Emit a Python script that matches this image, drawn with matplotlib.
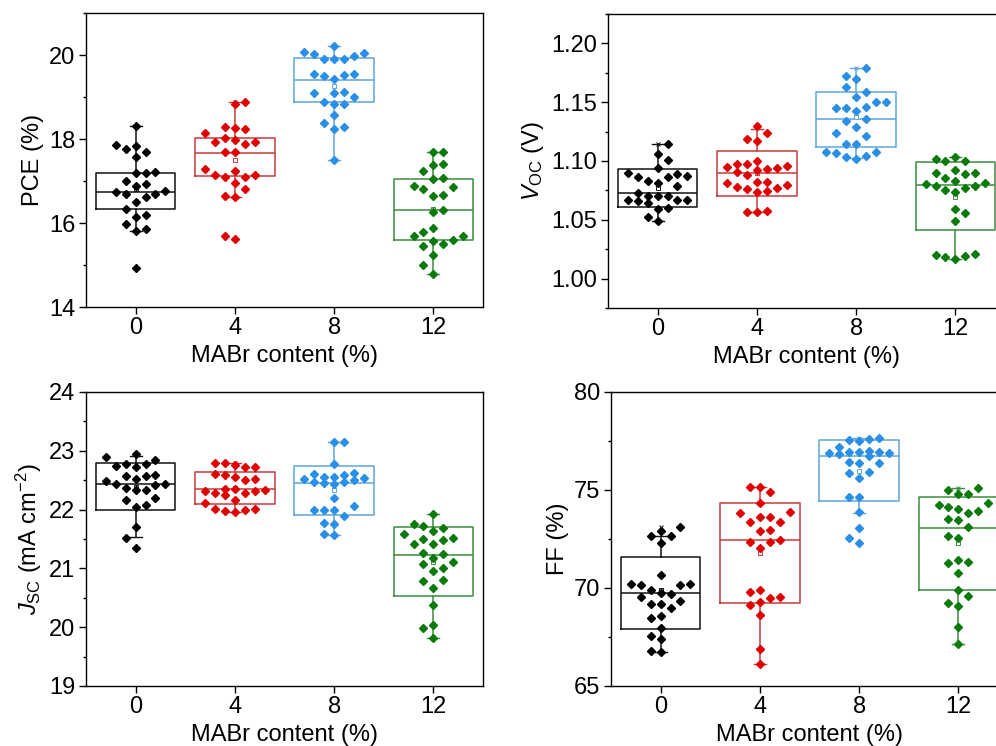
import numpy as np
import matplotlib.pyplot as plt
from matplotlib.ticker import MultipleLocator, FormatStrFormatter

plt.rcParams['font.family'] = ['Liberation Sans', 'DejaVu Sans']
plt.rcParams['mathtext.fontset'] = 'custom'
plt.rcParams['mathtext.rm'] = 'Liberation Sans'
plt.rcParams['mathtext.it'] = 'Liberation Sans:italic'
plt.rcParams['mathtext.bf'] = 'Liberation Sans:bold'

# MABr content groups
contents = ['0', '4', '8', '12']
point_colors = ['#000000', '#E00000', '#2A8FE6', '#0A7A0A']
box_colors = ['#111111', '#C83A3A', '#5CA6DC', '#3C8C3C']

# PCE (%)
pce_0 = [18.31, 17.76, 17.84, 17.86, 17.68, 17.57, 17.19, 17.22, 17.19, 17.01, 16.92, 16.87, 16.70,
         16.69, 16.74, 16.77, 16.61, 16.51, 16.33, 16.15, 16.19, 15.97, 15.85, 15.82, 14.94]
pce_4 = [18.87, 18.84, 18.29, 18.27, 18.23, 18.14, 18.02, 17.97, 17.89, 17.92, 17.92, 17.70, 17.68,
         17.29, 17.15, 17.15, 17.25, 17.10, 17.10, 16.95, 16.81, 16.65, 16.61, 15.69, 15.62]
pce_8 = [20.21, 20.02, 20.04, 20.08, 19.97, 19.91, 19.90, 19.91, 19.55, 19.54, 19.49, 19.52, 19.42,
         19.10, 19.10, 19.13, 19.01, 18.83, 18.84, 18.89, 18.56, 18.39, 18.23, 18.28, 17.49]
pce_12 = [17.68, 17.68, 17.38, 17.40, 17.25, 17.06, 17.05, 16.89, 16.81, 16.85, 16.65, 16.67, 16.31,
          16.27, 15.87, 15.79, 15.56, 15.68, 15.68, 15.60, 15.46, 15.49, 15.25, 14.99, 14.79]
# box statistics per group: lower whisker, Q1, median, Q3, upper whisker, mean
pce_lo = [15.82, 16.61, 17.49, 14.79]
pce_q1 = [16.33, 17.11, 18.87, 15.60]
pce_med = [16.75, 17.66, 19.40, 16.31]
pce_q3 = [17.20, 18.02, 19.92, 17.05]
pce_hi = [18.31, 18.87, 20.21, 17.68]
pce_mean = [16.81, 17.49, 19.26, 16.33]

# Voc (V)
voc_0 = [1.1144, 1.106, 1.101, 1.094, 1.089, 1.090, 1.087, 1.086, 1.086, 1.083, 1.081, 1.079, 1.073,
         1.070, 1.070, 1.070, 1.066, 1.067, 1.067, 1.067, 1.064, 1.060, 1.059, 1.052, 1.049]
voc_4 = [1.1297, 1.124, 1.1184, 1.1167, 1.0975, 1.0907, 1.0938, 1.0952, 1.1000, 1.0881, 1.0924,
         1.0929, 1.0958, 1.0975, 1.0749, 1.0760, 1.0768, 1.0782, 1.0811, 1.0825, 1.0737, 1.0825,
         1.0797, 1.0579, 1.0570, 1.0570]
voc_8 = [1.179, 1.1726, 1.170, 1.163, 1.1585, 1.1545, 1.150, 1.150, 1.1424, 1.145, 1.1455, 1.145,
         1.136, 1.134, 1.1285, 1.1235, 1.1215, 1.1144, 1.1144, 1.1076, 1.108, 1.107, 1.102, 1.104, 1.1034]
voc_12 = [1.0997, 1.0997, 1.1014, 1.103, 1.090, 1.0924, 1.0856, 1.089, 1.090, 1.0805, 1.083, 1.079,
          1.079, 1.0817, 1.0754, 1.074, 1.0774, 1.0593, 1.0556, 1.0494, 1.018, 1.020, 1.017, 1.0206, 1.0195]
voc_lo = [1.049, 1.057, 1.1026, 1.017]
voc_q1 = [1.061, 1.070, 1.112, 1.041]
voc_med = [1.0726, 1.090, 1.136, 1.0797]
voc_q3 = [1.0935, 1.1085, 1.159, 1.099]
voc_hi = [1.1144, 1.127, 1.179, 1.103]
voc_mean = [1.0774, 1.0896, 1.137, 1.0698]

# Jsc (mA cm-2)
jsc_0 = [22.90, 22.94, 22.84, 22.77, 22.73, 22.74, 22.77, 22.58, 22.57, 22.57, 22.52, 22.48, 22.44,
         22.43, 22.41, 22.36, 22.34, 22.34, 22.20, 22.16, 22.08, 22.05, 21.70, 21.52, 21.35]
jsc_4 = [22.01, 22.16, 22.29, 22.32, 22.33, 22.35, 22.55, 22.61, 22.72, 22.79, 22.80, 22.76, 22.73,
         22.50, 22.35, 22.32, 22.29, 22.24, 22.59, 22.52, 22.11, 22.01, 21.98, 21.99, 21.96]
jsc_8 = [23.15, 23.15, 22.77, 22.58, 22.62, 22.60, 22.53, 22.50, 22.56, 22.56, 22.47, 22.45, 22.47,
         22.43, 22.19, 22.00, 22.00, 22.06, 22.00, 21.89, 21.78, 21.76, 21.58, 21.56, 22.52]
jsc_12 = [21.92, 21.68, 21.75, 21.72, 21.64, 21.50, 21.58, 21.49, 21.52, 21.42, 21.42, 21.27, 21.24,
          21.17, 21.08, 21.11, 21.00, 20.96, 20.80, 20.78, 20.67, 20.37, 20.04, 19.98, 19.82]
jsc_lo = [21.53, 21.96, 21.56, 19.82]
jsc_q1 = [21.99, 22.09, 21.90, 20.53]
jsc_med = [22.44, 22.35, 22.46, 21.23]
jsc_q3 = [22.80, 22.64, 22.74, 21.70]
jsc_hi = [22.92, 22.80, 23.15, 21.92]
jsc_mean = [22.39, 22.37, 22.33, 21.11]

# FF (%)
ff_0 = [73.12, 72.64, 72.64, 72.89, 72.30, 70.65, 70.20, 70.20, 70.16, 70.16, 69.92, 69.77, 69.69,
        69.55, 69.35, 69.16, 69.18, 68.99, 68.48, 68.58, 67.97, 67.55, 67.38, 66.80, 66.71]
ff_4 = [75.15, 75.15, 74.90, 74.34, 73.37, 73.62, 73.62, 73.83, 73.37, 72.95, 72.91, 73.88, 72.35,
        72.44, 72.35, 72.03, 69.55, 69.47, 69.80, 69.89, 69.30, 69.13, 68.62, 66.87, 66.10]
ff_8 = [77.67, 77.59, 77.52, 77.55, 77.21, 76.44, 76.75, 76.87, 77.00, 76.87, 76.92, 76.92, 76.92,
        76.82, 76.39, 76.39, 75.90, 75.85, 75.63, 74.63, 74.66, 73.89, 73.05, 72.54, 72.31]
ff_12 = [74.98, 74.78, 75.12, 74.81, 74.35, 74.13, 73.93, 74.22, 73.51, 73.83, 73.45, 73.12, 72.56,
         72.64, 71.33, 71.28, 71.45, 70.77, 69.92, 69.60, 69.26, 69.09, 67.99, 67.12, 74.05]
ff_lo = [66.71, 66.10, 73.85, 67.12]
ff_q1 = [67.90, 69.24, 74.44, 69.92]
ff_med = [69.72, 72.47, 76.71, 73.06]
ff_q3 = [71.59, 74.35, 77.56, 74.64]
ff_hi = [72.64, 75.15, 77.67, 75.12]
ff_mean = [69.90, 71.79, 75.95, 72.28]


def swarm_offsets(ax, x0, vals, step=0.1, reach=0.35, gap_x=9.5, gap_y=11.0):
    # spread diamonds sideways within the box width so neighbours don't overlap
    trans = ax.transData
    vals = np.asarray(vals)
    offs = np.zeros(len(vals))
    placed = []
    nmax = int(round(reach / step))
    for n, i in enumerate(np.argsort(vals)):
        sign = 1 if n % 2 == 0 else -1
        cands = [0.0]
        for k in range(1, nmax + 1):
            cands += [sign * k * step, -sign * k * step]
        best, best_score = cands[0], -1.0
        for c in cands:
            px, py = trans.transform((x0 + c, vals[i]))
            score = min([max(abs(px - qx) / gap_x, abs(py - qy) / gap_y) for qx, qy in placed],
                        default=10.0)
            if score >= 1.0:
                best = c
                break
            if score > best_score:
                best, best_score = c, score
        placed.append(tuple(trans.transform((x0 + best, vals[i]))))
        offs[i] = best
    return offs


fig = plt.figure(figsize=(9.96, 7.46), dpi=100)

panels = [
    ([pce_0, pce_4, pce_8, pce_12], (pce_lo, pce_q1, pce_med, pce_q3, pce_hi, pce_mean),
     'PCE (%)', (14, 21), 2, 1, '%d', [86, 13]),
    ([voc_0, voc_4, voc_8, voc_12], (voc_lo, voc_q1, voc_med, voc_q3, voc_hi, voc_mean),
     r'$V_{\mathrm{OC}}$ (V)', (0.975, 1.225), 0.05, 0.025, '%.2f', [608, 14]),
    ([jsc_0, jsc_4, jsc_8, jsc_12], (jsc_lo, jsc_q1, jsc_med, jsc_q3, jsc_hi, jsc_mean),
     r'$J_{\mathrm{SC}}$ (mA cm$^{-2}$)', (19, 24), 1, 0.5, '%d', [86, 392]),
    ([ff_0, ff_4, ff_8, ff_12], (ff_lo, ff_q1, ff_med, ff_q3, ff_hi, ff_mean),
     'FF (%)', (65, 80), 5, 2.5, '%d', [611, 392]),
]

W, H = 996, 746
fs = 17
for groups, (lo, q1, med, q3, hi, mean), ylabel, ylim, major, minor, fmt, (lx, ty) in panels:
    ax = fig.add_axes([lx / W, (H - ty - 294) / H, 397 / W, 294 / H])
    ax.set_xlim(0.5, 4.5)
    ax.set_ylim(*ylim)

    pos = np.arange(1, 5)
    stats = [dict(whislo=lo[k], q1=q1[k], med=med[k], q3=q3[k], whishi=hi[k], mean=mean[k])
             for k in range(4)]
    bp = ax.bxp(stats, positions=pos, widths=0.8, showfliers=False, showmeans=True,
                capwidths=0.12, manage_ticks=False)
    for k in range(4):
        c = box_colors[k]
        bp['boxes'][k].set(color=c, linewidth=1.1)
        bp['medians'][k].set(color=c, linewidth=1.1)
        for w in bp['whiskers'][2 * k:2 * k + 2]:
            w.set(color=c, linewidth=1.1)
        for cap in bp['caps'][2 * k:2 * k + 2]:
            cap.set(color=c, linewidth=1.0)
        bp['means'][k].set(marker='s', markersize=3.2, markerfacecolor='white',
                           markeredgecolor=c, markeredgewidth=0.7)

    for k, vals in enumerate(groups):
        offs = swarm_offsets(ax, pos[k], vals)
        ax.plot(pos[k] + offs, vals, linestyle='none', marker='D', markersize=4.2,
                color=point_colors[k], zorder=3)
        ax.plot([pos[k], pos[k]], [min(vals), max(vals)], linestyle='none', marker='x',
                markersize=3, markeredgewidth=0.7, color=box_colors[k], zorder=2)

    ax.set_xticks(pos)
    ax.set_xticklabels(contents)
    ax.yaxis.set_major_locator(MultipleLocator(major))
    ax.yaxis.set_minor_locator(MultipleLocator(minor))
    ax.yaxis.set_major_formatter(FormatStrFormatter(fmt))
    ax.tick_params(axis='both', which='major', labelsize=fs, length=5, width=1.0,
                   direction='out', pad=2.5)
    ax.tick_params(axis='y', which='minor', length=2.5, width=1.0)
    for sp in ax.spines.values():
        sp.set_linewidth(1.0)
    ax.set_xlabel('MABr content (%)', fontsize=fs, labelpad=4)
    ax.set_ylabel(ylabel, fontsize=fs, labelpad=4)

fig.savefig('out.png', dpi=100)
